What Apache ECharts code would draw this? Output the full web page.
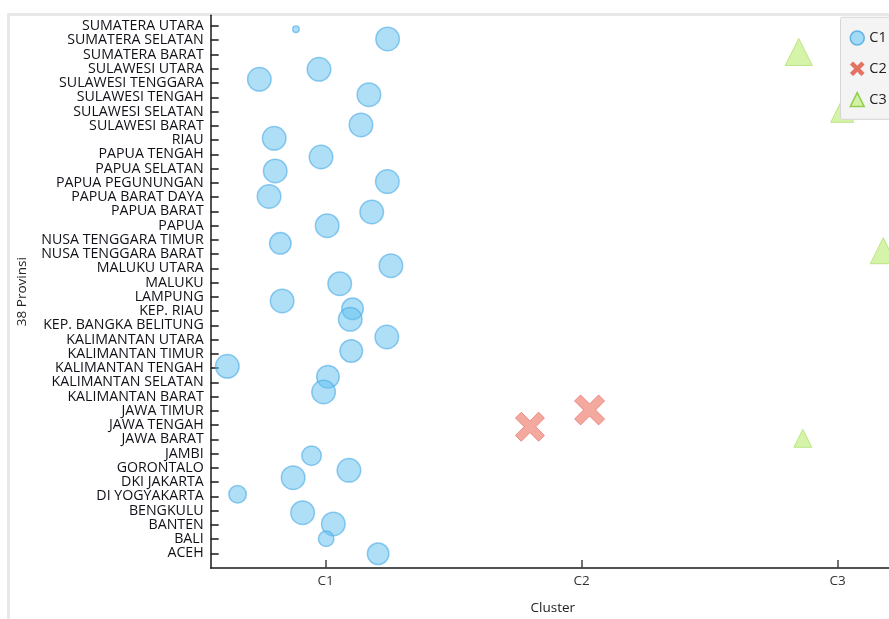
<!DOCTYPE html>
<html>
<head>
<meta charset="utf-8">
<script src="https://cdn.jsdelivr.net/npm/echarts@6/dist/echarts.min.js"></script>
<style>
  html, body { margin: 0; padding: 0; width: 889px; height: 619px; overflow: hidden; background: #fff; }
  #frame { position: absolute; left: 7px; top: 12.5px; width: 1000px; height: 604px; border: 3px solid #e8e8e8; box-sizing: content-box; }
  #chart { position: absolute; left: 0; top: 0; width: 920px; height: 619px; }
</style>
</head>
<body>
<div id="frame"></div>
<div id="chart"></div>
<script>
// Provinces, bottom (index 0) to top
const provinces = [
  "ACEH", "BALI", "BANTEN", "BENGKULU", "DI YOGYAKARTA", "DKI JAKARTA", "GORONTALO", "JAMBI",
  "JAWA BARAT", "JAWA TENGAH", "JAWA TIMUR", "KALIMANTAN BARAT", "KALIMANTAN SELATAN",
  "KALIMANTAN TENGAH", "KALIMANTAN TIMUR", "KALIMANTAN UTARA", "KEP. BANGKA BELITUNG", "KEP. RIAU",
  "LAMPUNG", "MALUKU", "MALUKU UTARA", "NUSA TENGGARA BARAT", "NUSA TENGGARA TIMUR", "PAPUA",
  "PAPUA BARAT", "PAPUA BARAT DAYA", "PAPUA PEGUNUNGAN", "PAPUA SELATAN", "PAPUA TENGAH", "RIAU",
  "SULAWESI BARAT", "SULAWESI SELATAN", "SULAWESI TENGAH", "SULAWESI TENGGARA", "SULAWESI UTARA",
  "SUMATERA BARAT", "SUMATERA SELATAN", "SUMATERA UTARA"
];
const clusterTicks = ["C1", "C2", "C3"];

// Cluster C1 members: jittered cluster position, row jitter, bubble magnitude
const c1Names = ["SUMATERA UTARA", "SUMATERA SELATAN", "SULAWESI UTARA", "SULAWESI TENGGARA", "SULAWESI TENGAH",
  "SULAWESI BARAT", "RIAU", "PAPUA TENGAH", "PAPUA SELATAN", "PAPUA PEGUNUNGAN", "PAPUA BARAT DAYA",
  "PAPUA BARAT", "PAPUA", "NUSA TENGGARA TIMUR", "MALUKU UTARA", "MALUKU", "LAMPUNG", "KEP. RIAU",
  "KEP. BANGKA BELITUNG", "KALIMANTAN UTARA", "KALIMANTAN TIMUR", "KALIMANTAN TENGAH", "KALIMANTAN SELATAN",
  "KALIMANTAN BARAT", "JAMBI", "GORONTALO", "DKI JAKARTA", "DI YOGYAKARTA", "BENGKULU", "BANTEN", "BALI", "ACEH"];
const c1X = [0.884, 1.242, 0.974, 0.741, 1.169, 1.138, 0.799, 0.982, 0.803, 1.241, 0.779,
  1.180, 1.006, 0.823, 1.255, 1.055, 0.830, 1.105, 1.096, 1.239, 1.100, 0.616, 1.009,
  0.992, 0.945, 1.091, 0.873, 0.656, 0.910, 1.030, 1.002, 1.205];
const c1Jit = [-0.23, 0.09, -0.04, 0.26, 0.18, 0.06, 0.12, -0.19, -0.17, 0.08, 0.04,
  -0.05, -0.01, -0.25, 0.18, -0.08, -0.29, 0.16, 0.42, 0.18, 0.20, 0.12, 0.39,
  0.32, -0.15, -0.18, 0.31, 0.14, -0.15, 0.06, 0.02, -0.03];
const c1Mag = [8, 25, 25, 25, 25, 25, 25, 25, 25, 25, 25,
  25, 25, 23, 25, 25, 25, 23, 25, 25, 24, 25, 24,
  25, 21, 25, 25, 19, 25, 25, 17, 23];

// Cluster C2 members
const c2Names = ["JAWA TENGAH", "JAWA TIMUR"];
const c2X = [1.798, 2.031];
const c2Jit = [-0.12, 0.06];
const c2Mag = [29, 30];

// Cluster C3 members
const c3Names = ["JAWA BARAT", "SUMATERA BARAT", "SULAWESI SELATAN", "NUSA TENGGARA BARAT"];
const c3X = [2.864, 2.848, 3.018, 3.178];
const c3Jit = [0.07, 0.18, 0.05, 0.23];
const c3Mag = [18, 27, 23, 26];

function build(names, xs, jit, mag) {
  return names.map((n, i) => ({ name: n, value: [xs[i], provinces.indexOf(n) + jit[i], mag[i]] }));
}

const crossPath = 'path://M0,2L2,0L5,3L8,0L10,2L7,5L10,8L8,10L5,7L2,10L0,8L3,5Z';
const rowValues = provinces.map((_, i) => i);
const FONT = 'Open Sans';

const chart = echarts.init(document.getElementById('chart'), null, { renderer: 'canvas' });
chart.setOption({
  animation: false,
  backgroundColor: 'transparent',
  grid: { left: 210.7, right: 25, top: 15.3, bottom: 51, containLabel: false, outerBoundsMode: 'none' },
  xAxis: {
    type: 'value', min: 0.551, max: 3.224,
    name: 'Cluster', nameLocation: 'middle', nameGap: 33,
    nameTextStyle: { fontFamily: FONT, fontSize: 13.5, color: '#222' },
    axisLine: { show: true, onZero: false, lineStyle: { color: '#1a1a1a', width: 1.5 } },
    axisTick: { show: true, inside: true, length: 8, lineStyle: { color: '#444', width: 1.5 }, customValues: [1, 2, 3] },
    axisLabel: { customValues: [1, 2, 3], formatter: v => clusterTicks[Math.round(v) - 1] || '', fontFamily: FONT, fontSize: 13.5, color: '#333', margin: 6 },
    splitLine: { show: false }
  },
  yAxis: {
    type: 'value', min: -1.03, max: 37.75,
    name: '38 Provinsi', nameLocation: 'middle', nameGap: 182, nameRotate: 90,
    nameTextStyle: { fontFamily: FONT, fontSize: 13.5, color: '#222' },
    axisLine: { show: true, onZero: false, lineStyle: { color: '#1a1a1a', width: 1.5 } },
    axisTick: { show: true, inside: true, length: 8, lineStyle: { color: '#1a1a1a', width: 1.5 }, customValues: rowValues },
    axisLabel: { customValues: rowValues, formatter: v => provinces[Math.round(v)] || '', fontFamily: FONT, fontSize: 14.2, color: '#101018', margin: 7 },
    splitLine: { show: false }
  },
  legend: {
    orient: 'vertical', left: 840.5, top: 17.3,
    padding: [13, 12, 12, 9], itemGap: 15.5, itemWidth: 14, itemHeight: 14,
    backgroundColor: '#f4f4f4', borderColor: '#d6d6d6', borderWidth: 1, borderRadius: 2,
    textStyle: { fontFamily: FONT, fontSize: 14.5, color: '#222' },
    data: [
      { name: 'C1', icon: 'circle', itemStyle: { color: '#8fd3f5', borderColor: '#4aa6df', borderWidth: 1.5 } },
      { name: 'C2', icon: crossPath, itemStyle: { color: '#e0503c', borderColor: '#e0503c', borderWidth: 0.5 } },
      { name: 'C3', icon: 'triangle', itemStyle: { color: '#c8ef95', borderColor: '#7fc52b', borderWidth: 1.5 } }
    ]
  },
  series: [
    {
      name: 'C1', type: 'scatter', symbol: 'circle',
      symbolSize: v => v[2] - 1.5,
      itemStyle: { color: 'rgba(100,193,240,0.65)', borderColor: 'rgba(75,170,228,0.75)', borderWidth: 1.5 },
      data: build(c1Names, c1X, c1Jit, c1Mag)
    },
    {
      name: 'C2', type: 'scatter', symbol: crossPath,
      symbolSize: v => v[2],
      itemStyle: { color: 'rgba(238,120,105,0.8)', borderColor: 'rgba(225,100,90,0.8)', borderWidth: 1 },
      data: build(c2Names, c2X, c2Jit, c2Mag)
    },
    {
      name: 'C3', type: 'scatter', symbol: 'triangle',
      symbolSize: v => v[2],
      itemStyle: { color: 'rgba(190,238,120,0.8)', borderColor: 'rgba(165,220,95,0.85)', borderWidth: 1 },
      data: build(c3Names, c3X, c3Jit, c3Mag)
    }
  ]
});
</script>
</body>
</html>
